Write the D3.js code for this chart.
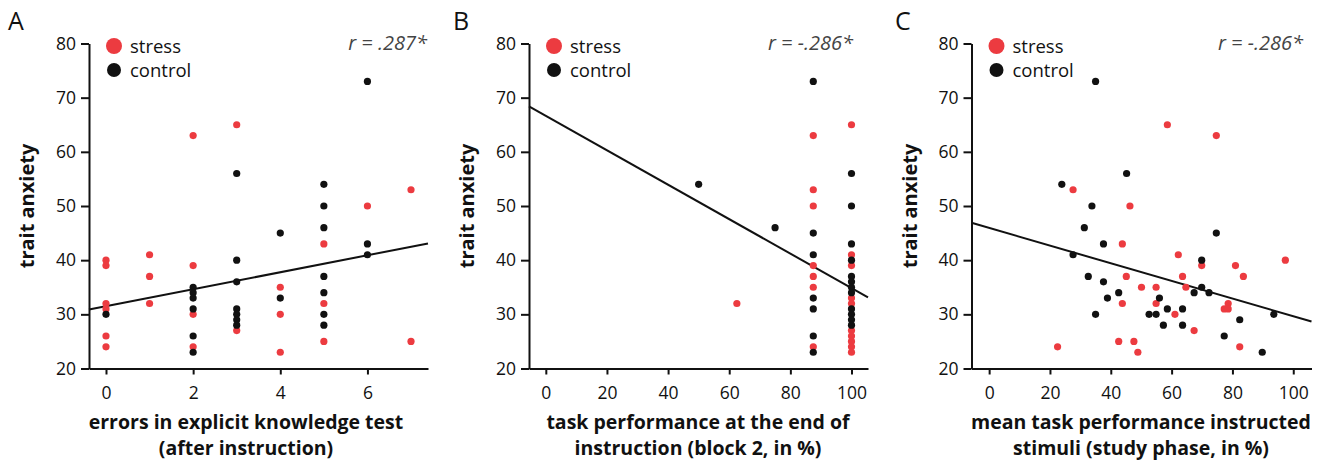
<!DOCTYPE html>
<html>
<head>
<meta charset="utf-8">
<script src="https://cdn.jsdelivr.net/npm/d3@7"></script>
<style>
  body { margin: 0; background: #fff; }
  svg { font-family: "Open Sans", sans-serif; }
  .axis path, .axis line { stroke: #111; stroke-width: 2px; }
  .axis text { font-family: "Open Sans", sans-serif; font-size: 17.5px; fill: #111; }
  .ylab { font-weight: bold; font-size: 20px; fill: #111; }
  .xlab { font-weight: bold; font-size: 19.5px; fill: #111; }
  .rlab { font-style: italic; font-size: 20px; fill: #444; }
  .leg { font-size: 18.5px; fill: #111; }
  .letter { font-size: 25px; fill: #111; }
</style>
</head>
<body>
<div id="chart"></div>
<script>
var width = 1335,
    height = 464;

var red = "#ec3b40",
    black = "#111";

// panel A: errors in explicit knowledge test vs trait anxiety
var stressA = [[0,40],[0,39],[0,32],[0,31],[0,26],[0,24],[1,41],[1,37],[1,32],
  [2,63],[2,39],[2,30],[2,24],[3,65],[3,27],[4,35],[4,30],[4,23],
  [5,43],[5,32],[5,25],[6,50],[7,53],[7,25]];
var controlA = [[0,30],[2,35],[2,34],[2,33],[2,31],[2,26],[2,23],
  [3,56],[3,40],[3,36],[3,31],[3,30],[3,29],[3,28],[4,45],[4,33],
  [5,54],[5,50],[5,46],[5,37],[5,34],[5,30],[5,28],[6,73],[6,43],[6,41]];

// panel B: task performance end of instruction
var stressB = [[62.5,32],[87.5,63],[87.5,53],[87.5,50],[87.5,39],[87.5,37],[87.5,35],[87.5,24],
  [100,65],[100,41],[100,39],[100,33],[100,32],[100,27],[100,26],[100,25],[100,24],[100,23]];
var controlB = [[50,54],[75,46],[87.5,73],[87.5,45],[87.5,41],[87.5,33],[87.5,31],[87.5,26],[87.5,23],
  [100,56],[100,50],[100,43],[100,40],[100,37],[100,36],[100,35],[100,34],
  [100,31],[100,30],[100,29],[100,28]];

// panel C: mean task performance instructed stimuli
var stressC = [[58.6,65],[74.7,63],[27.6,53],[46.3,50],[43.8,43],[62.2,41],[69.9,39],[81,39],
  [83.6,37],[97.4,40],[45.1,37],[63.6,37],[50.1,35],[54.9,35],[64.7,35],[43.8,32],
  [54.9,32],[61.1,30],[77.3,31],[78.6,32],[78.6,31],[67.4,27],[22.5,24],[42.6,25],
  [47.6,25],[48.9,23],[82.4,24]];
var controlC = [[35,73],[23.9,54],[45.2,56],[33.8,50],[31.3,46],[37.6,43],[27.6,41],[74.7,45],
  [69.9,40],[32.6,37],[37.6,36],[42.6,34],[38.9,33],[35,30],[56,33],[52.6,30],
  [54.9,30],[58.6,31],[63.6,31],[57.3,28],[63.6,28],[67.4,34],[69.9,35],[72.3,34],
  [77.3,26],[82.4,29],[89.8,23],[93.6,30]];

// fitted lines: [intercept, slope]
var fitA = [31.5, 1.568],
    fitB = [66.65, -0.318],
    fitC = [45.95, -0.163];

var rLabels = ["r = .287*", "r = -.286*", "r = -.286*"];
var letters = ["A", "B", "C"];
var xLabels = [
  ["errors in explicit knowledge test", "(after instruction)"],
  ["task performance at the end of", "instruction (block 2, in %)"],
  ["mean task performance instructed", "stimuli (study phase, in %)"]
];
var xTicksA = [0, 2, 4, 6],
    xTicksBC = [0, 20, 40, 60, 80, 100],
    yTicks = [20, 30, 40, 50, 60, 70, 80];

var panels = [
  {left: 89, right: 428, xdom: [-0.39, 7.39], ticks: xTicksA, stress: stressA, control: controlA, fit: fitA, xlabX: 246, rX: 427, letterX: 8},
  {left: 529, right: 868, xdom: [-5.5, 105.4], ticks: xTicksBC, stress: stressB, control: controlB, fit: fitB, xlabX: 698, rX: 853, letterX: 453},
  {left: 971.5, right: 1311.5, xdom: [-5.8, 106.0], ticks: xTicksBC, stress: stressC, control: controlC, fit: fitC, xlabX: 1141, rX: 1303, letterX: 895}
];

var plotTop = 43.5, plotBottom = 368.5;

var svg = d3.select("#chart").append("svg")
    .attr("width", width)
    .attr("height", height);

var y = d3.scaleLinear().domain([20, 80]).range([plotBottom, plotTop]);

panels.forEach(function(p, i) {
  var x = d3.scaleLinear().domain(p.xdom).range([p.left, p.right]);
  var g = svg.append("g");

  g.append("text")
      .attr("class", "letter")
      .attr("x", p.letterX)
      .attr("y", 30)
      .text(letters[i]);

  g.append("g")
      .attr("class", "axis")
      .attr("transform", "translate(0," + plotBottom + ")")
      .call(d3.axisBottom(x).tickValues(p.ticks).tickSize(6).tickSizeOuter(0).tickPadding(12));

  g.append("g")
      .attr("class", "axis")
      .attr("transform", "translate(" + p.left + ",0)")
      .call(d3.axisLeft(y).tickValues(yTicks).tickSize(8).tickSizeOuter(0).tickPadding(5));

  g.append("text")
      .attr("class", "ylab")
      .attr("transform", "translate(" + (p.left - 55) + "," + ((plotTop + plotBottom) / 2) + ") rotate(-90)")
      .attr("text-anchor", "middle")
      .text("trait anxiety");

  xLabels[i].forEach(function(t, k) {
    g.append("text")
        .attr("class", "xlab")
        .attr("text-anchor", "middle")
        .attr("x", p.xlabX)
        .attr("y", 429 + k * 26)
        .text(t);
  });

  g.append("line")
      .attr("x1", x(p.xdom[0])).attr("y1", y(p.fit[0] + p.fit[1] * p.xdom[0]))
      .attr("x2", x(p.xdom[1])).attr("y2", y(p.fit[0] + p.fit[1] * p.xdom[1]))
      .attr("stroke", black)
      .attr("stroke-width", 2);

  g.selectAll(".s")
      .data(p.stress)
    .enter().append("circle")
      .attr("cx", function(d) { return x(d[0]); })
      .attr("cy", function(d) { return y(d[1]); })
      .attr("r", 3.6)
      .attr("fill", red);

  g.selectAll(".c")
      .data(p.control)
    .enter().append("circle")
      .attr("cx", function(d) { return x(d[0]); })
      .attr("cy", function(d) { return y(d[1]); })
      .attr("r", 3.6)
      .attr("fill", black);

  // legend
  g.append("circle").attr("cx", p.left + 25).attr("cy", 46).attr("r", 8).attr("fill", red);
  g.append("circle").attr("cx", p.left + 25).attr("cy", 70).attr("r", 7).attr("fill", black);
  g.append("text").attr("class", "leg").attr("x", p.left + 41).attr("y", 53).text("stress");
  g.append("text").attr("class", "leg").attr("x", p.left + 41).attr("y", 77).text("control");

  g.append("text")
      .attr("class", "rlab")
      .attr("x", p.rX)
      .attr("y", 50)
      .attr("text-anchor", "end")
      .text(rLabels[i]);
});
</script>
</body>
</html>
